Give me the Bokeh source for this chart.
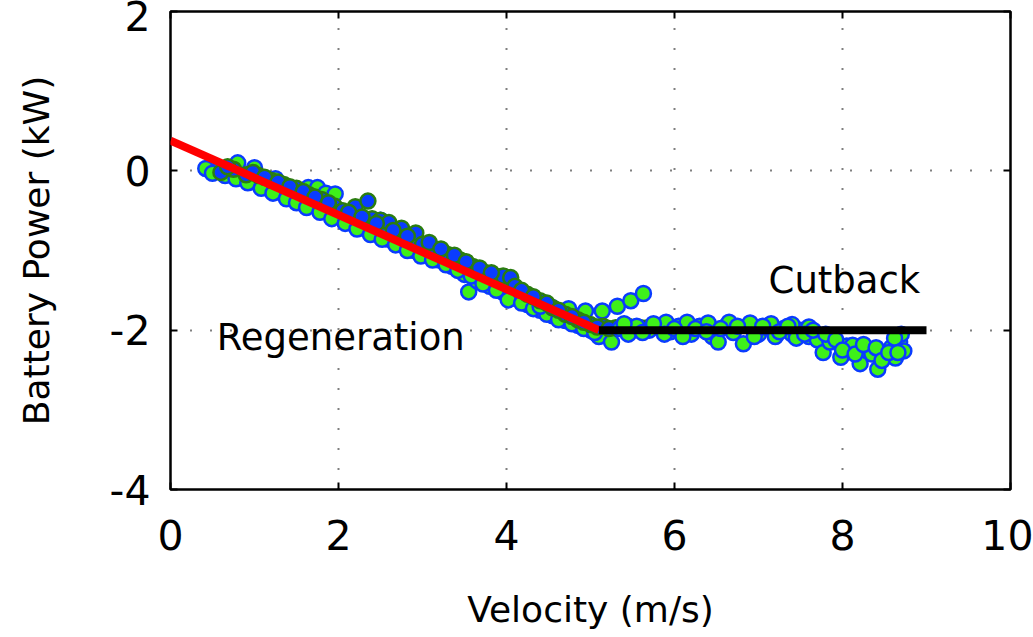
from bokeh.plotting import figure
from bokeh.models import Range1d, FixedTicker, LinearAxis
from bokeh.core.properties import value
from bokeh.embed import file_html
from bokeh.resources import INLINE

# ---------------- data ----------------
green_regen_v = [0.42, 0.55, 0.7, 0.8, 0.85, 1.0, 1.0, 1.15, 1.25, 1.3, 1.45, 1.55, 1.7, 1.85,
                 2.0, 2.15, 2.3, 2.45, 2.5, 2.6, 2.75, 2.9, 3.05, 3.2, 3.35, 3.4, 3.5, 3.55,
                 3.65, 3.8, 3.9, 3.95, 4.1, 4.25, 4.4, 4.55, 4.7, 4.85, 5.0, 5.1, 5.25,
                 0.5, 0.65, 0.78, 0.92, 1.08, 1.22, 1.38, 1.5, 1.62, 1.78, 1.92, 2.08, 2.22, 2.38,
                 2.52, 2.68, 2.82, 2.98, 3.12, 3.28, 3.42, 3.58, 3.72, 3.88, 4.02, 4.18, 4.32, 4.48,
                 4.62, 4.78, 4.92, 5.05,
                 1.64, 1.75, 1.85, 1.96,
                 4.4, 4.55, 4.74, 4.94, 5.14, 5.32, 5.48, 5.63]
green_regen_p = [0.03, 0.0, -0.02, 0.1, -0.08, -0.14, 0.04, -0.2, -0.1, -0.27, -0.3, -0.38, -0.43, -0.5,
                 -0.57, -0.63, -0.72, -0.78, -0.62, -0.86, -0.92, -1.0, -1.05, -1.12, -1.2, -1.1, -1.3, -1.52,
                 -1.38, -1.45, -1.35, -1.52, -1.6, -1.68, -1.75, -1.82, -1.88, -1.94, -2.0, -2.08, -2.15,
                 -0.03, -0.06, -0.1, -0.15, -0.22, -0.28, -0.35, -0.4, -0.46, -0.52, -0.6, -0.66, -0.73, -0.8,
                 -0.86, -0.93, -1.0, -1.07, -1.12, -1.18, -1.25, -1.32, -1.42, -1.5, -1.62, -1.66, -1.73, -1.8,
                 -1.87, -1.92, -1.98, -2.03,
                 -0.21, -0.21, -0.28, -0.29,
                 -1.7, -1.72, -1.73, -1.76, -1.76, -1.7, -1.63, -1.54]

blue_v = [0.6, 0.75, 0.9, 1.05, 1.2, 1.35, 1.5, 1.65, 1.8, 1.95, 2.05, 2.2, 2.35, 2.4, 2.5, 2.6,
          2.75, 2.92, 3.0, 3.15, 3.3, 3.45, 3.6, 3.75, 3.9, 3.96, 4.05, 4.1, 4.25, 4.4, 4.55,
          4.7, 4.85, 5.0, 5.15, 5.3, 5.45, 5.6, 5.75, 5.9, 6.05,
          0.68, 0.98, 1.12, 1.28, 1.42, 1.58, 1.72, 1.88, 2.12, 2.28, 2.45, 2.65, 2.82, 3.08,
          3.22, 3.38, 3.52, 3.68, 3.82, 4.18, 4.32, 4.48, 4.62, 4.78, 4.92, 5.08, 5.22, 5.38,
          5.52, 5.68, 5.82, 5.98]
blue_p = [-0.02, 0.02, -0.05, -0.06, -0.12, -0.17, -0.22, -0.3, -0.36, -0.44, -0.5, -0.45, -0.38, -0.6,
          -0.62, -0.65, -0.72, -0.78, -0.92, -0.98, -1.05, -1.12, -1.2, -1.28, -1.33, -1.32, -1.34,
          -1.45, -1.55, -1.63, -1.72, -1.8, -1.87, -1.93, -1.95, -1.97, -1.95, -1.97, -1.96, -1.98, -1.97,
          0.05, -0.02, -0.08, -0.14, -0.2, -0.26, -0.33, -0.4, -0.52, -0.58, -0.66, -0.75, -0.82, -0.9,
          -0.98, -1.06, -1.14, -1.22, -1.28, -1.5, -1.58, -1.66, -1.75, -1.83, -1.9, -1.96, -1.98, -1.96,
          -1.98, -1.97, -1.96, -1.98]

green_cut_v = [5.35, 5.45, 5.55, 5.7, 5.8, 5.95, 6.05, 6.2, 6.3, 6.45, 6.52, 6.6, 6.7, 6.82, 6.9,
               7.0, 7.1, 7.2, 7.3, 7.4, 7.5, 7.6, 7.7, 7.77, 7.85, 7.98, 8.05, 8.12, 8.21, 8.28,
               8.35, 8.42, 8.5, 8.58, 8.63, 8.68, 8.73, 8.7, 8.62,
               5.9, 6.15, 6.4, 6.65, 6.9, 7.15, 7.4, 7.6,
               5.4, 5.62, 5.75, 5.88, 6.0, 6.1, 6.25, 6.38, 6.55, 6.75, 6.95, 7.05, 7.25, 7.35,
               7.45, 7.55, 7.65, 7.8, 7.92, 8.0, 8.15, 8.25, 8.4, 8.47, 8.55, 8.66]
green_cut_p = [-1.98, -2.05, -1.95, -2.0, -1.94, -2.02, -1.95, -2.05, -1.95, -2.08, -2.15, -1.96, -2.03, -2.17, -1.95,
               -2.05, -1.97, -2.08, -1.98, -2.05, -2.0, -2.08, -2.12, -2.28, -2.15, -2.34, -2.2, -2.19, -2.42, -2.25,
               -2.3, -2.49, -2.3, -2.22, -2.35, -2.15, -2.26, -2.05, -2.1,
               -1.9, -1.9, -1.91, -1.9, -1.91, -1.92, -1.93, -1.96,
               -1.92, -2.03, -1.92, -2.05, -1.98, -2.08, -1.98, -2.02, -1.98, -1.95, -2.08, -1.95, -2.02, -1.95,
               -2.1, -2.05, -2.0, -2.05, -2.12, -2.25, -2.3, -2.18, -2.22, -2.38, -2.28, -2.28]

regen_fit_v = [0.0, 5.1]
regen_fit_p = [0.38, -2.0]
cutback_v = [5.1, 9.0]
cutback_p = [-2.0, -2.0]

x_ticks = [0, 2, 4, 6, 8, 10]
y_ticks = [-4, -2, 0, 2]
y_tick_labels = {-4: "-4", -2: "-2", 0: "0", 2: "2"}

labels_text = ["Regeneration", "Cutback"]
labels_v = [0.55, 7.12]
labels_p = [-2.09, -1.38]

FONT = "DejaVu Sans"

# ---------------- figure ----------------
p = figure(width=1033, height=637, output_backend="svg", toolbar_location=None,
           x_range=Range1d(0, 10), y_range=Range1d(-4, 2),
           min_border_left=170, min_border_right=23, min_border_top=11, min_border_bottom=148,
           x_axis_label="Velocity (m/s)", y_axis_label="Battery Power (kW)")
p.background_fill_color = "white"
p.border_fill_color = "white"
p.outline_line_color = "black"
p.outline_line_width = 2.5

for ax in (p.xaxis[0], p.yaxis[0]):
    ax.major_label_text_font = FONT
    ax.major_label_text_font_size = "41px"
    ax.major_label_text_color = "black"
    ax.axis_label_text_font = FONT
    ax.axis_label_text_font_size = "36px"
    ax.axis_label_text_font_style = "normal"
    ax.axis_label_text_color = "black"
    ax.major_tick_in = 7
    ax.major_tick_out = 0
    ax.minor_tick_line_color = None
    ax.major_tick_line_width = 2
    ax.axis_line_color = None

p.xaxis[0].ticker = FixedTicker(ticks=x_ticks)
p.yaxis[0].ticker = FixedTicker(ticks=y_ticks)
p.yaxis[0].major_label_overrides = y_tick_labels
p.xaxis[0].major_label_standoff = 30
p.xaxis[0].axis_label_standoff = 36
p.yaxis[0].major_label_standoff = 20
p.yaxis[0].axis_label_standoff = 50

# inward ticks on top and right
top_ax = LinearAxis(ticker=FixedTicker(ticks=x_ticks), major_tick_in=7, major_tick_out=0,
                    minor_tick_line_color=None, major_label_overrides={t: "" for t in x_ticks},
                    major_label_standoff=0, axis_line_color=None, major_tick_line_width=2)
right_ax = LinearAxis(ticker=FixedTicker(ticks=y_ticks), major_tick_in=7, major_tick_out=0,
                      minor_tick_line_color=None, major_label_overrides={t: "" for t in y_ticks},
                      major_label_standoff=0, axis_line_color=None, major_tick_line_width=2)
p.add_layout(top_ax, "above")
p.add_layout(right_ax, "right")

p.xgrid.ticker = FixedTicker(ticks=x_ticks)
p.ygrid.ticker = FixedTicker(ticks=y_ticks)
for g in (p.xgrid[0], p.ygrid[0]):
    g.grid_line_color = "black"
    g.grid_line_dash = "1 19"
    g.grid_line_width = 2

GREEN = "#3ef01a"
BLUE = "#0a3cff"
DKGREEN = "#2b7d10"

p.scatter(green_regen_v, green_regen_p, size=15, fill_color=GREEN, line_color=BLUE, line_width=2.5)
p.scatter(blue_v, blue_p, size=15, fill_color=BLUE, line_color=DKGREEN, line_width=2.5)
p.scatter(green_cut_v, green_cut_p, size=15, fill_color=GREEN, line_color=BLUE, line_width=2.5)

p.line(regen_fit_v, regen_fit_p, line_color="#ff0000", line_width=8)
p.line(cutback_v, cutback_p, line_color="black", line_width=8)

p.text(labels_v, labels_p, text=labels_text, text_font=value(FONT), text_font_size="37px",
       text_align="left", text_baseline="middle", text_color="black")

open("out.html", "w").write(file_html(p, INLINE))
